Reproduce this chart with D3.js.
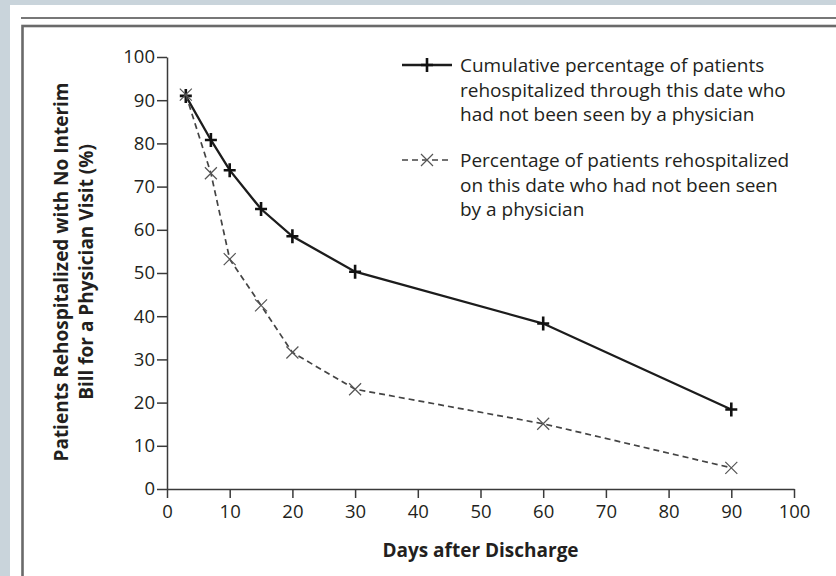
<!DOCTYPE html>
<html>
<head>
<meta charset="utf-8">
<script src="https://cdn.jsdelivr.net/npm/d3@7"></script>
<style>
  body { margin: 0; background: #c9d4db; }
  svg { display: block; }
  .axis path, .axis line { stroke: #3a3a3a; stroke-width: 1.5; }
  .axis text { font-family: "Open Sans", sans-serif; font-size: 18.5px; fill: #231f20; }
  .title { font-family: "Open Sans", sans-serif; font-weight: bold; font-size: 19px; fill: #231f20; }
  .legend { font-family: "Open Sans", sans-serif; font-size: 19px; fill: #231f20; }
</style>
</head>
<body>
<svg width="836" height="576"></svg>
<script>
// values
const days = [3, 7, 10, 15, 20, 30, 60, 90];
const cumulative = [91, 80.8, 73.8, 64.8, 58.5, 50.3, 38.3, 18.4];
const onDate = [91.3, 73.1, 53.2, 42.5, 31.6, 23.1, 15.1, 4.9];
const ticks = [0, 10, 20, 30, 40, 50, 60, 70, 80, 90, 100];
const legendCumulative = ["Cumulative percentage of patients",
  "rehospitalized through this date who",
  "had not been seen by a physician"];
const legendOnDate = ["Percentage of patients rehospitalized",
  "on this date who had not been seen",
  "by a physician"];

const svg = d3.select("svg");

// page frame
svg.append("rect").attr("x", 10).attr("y", 5).attr("width", 826).attr("height", 571).attr("fill", "#fff");
svg.append("line").attr("x1", 21).attr("x2", 836).attr("y1", 18).attr("y2", 18)
  .attr("stroke", "#4a4a4a").attr("stroke-width", 1.5);
svg.append("rect").attr("x", 22.5).attr("y", 26).attr("width", 900).attr("height", 700)
  .attr("fill", "none").attr("stroke", "#6a6a6a").attr("stroke-width", 2.6);

const x = d3.scaleLinear().domain([0, 100]).range([167, 794]);
const y = d3.scaleLinear().domain([0, 100]).range([489, 57]);

svg.append("g").attr("class", "axis")
  .attr("transform", "translate(0," + y(0) + ")")
  .call(d3.axisBottom(x).tickValues(ticks).tickSize(9).tickPadding(7).tickSizeOuter(0));
svg.append("g").attr("class", "axis")
  .attr("transform", "translate(" + x(0) + ",0)")
  .call(d3.axisLeft(y).tickValues(ticks).tickSize(10).tickPadding(2).tickSizeOuter(0));

// axis titles
svg.append("text").attr("class", "title")
  .attr("x", x(50)).attr("y", 557).attr("text-anchor", "middle")
  .text("Days after Discharge");
const yt = svg.append("text").attr("class", "title")
  .attr("transform", "translate(68,272) rotate(-90)").attr("text-anchor", "middle");
yt.append("tspan").attr("x", 0).attr("y", 0).text("Patients Rehospitalized with No Interim");
yt.append("tspan").attr("x", 0).attr("y", 25).text("Bill for a Physician Visit (%)");

const series = [
  { values: cumulative, color: "#1c1c1c", width: 2.3, dash: null, marker: "plus", legend: legendCumulative, ly: 65 },
  { values: onDate, color: "#444", width: 1.7, dash: "6,4", marker: "cross", legend: legendOnDate, ly: 160 }
];

const line = d3.line().x(d => x(d[0])).y(d => y(d[1]));

function marker(sel, type) {
  if (type === "plus") {
    sel.append("path").attr("d", "M-6,0H6M0,-7V7").attr("stroke", "#111").attr("stroke-width", 2.6);
  } else {
    sel.append("path").attr("d", "M-6,-6L6,6M-6,6L6,-6").attr("stroke", "#555").attr("stroke-width", 1.2);
  }
}

series.forEach(s => {
  const pts = days.map((d, i) => [d, s.values[i]]);
  svg.append("path").datum(pts)
    .attr("d", line)
    .attr("fill", "none")
    .attr("stroke", s.color)
    .attr("stroke-width", s.width)
    .attr("stroke-dasharray", s.dash);
  svg.selectAll(null).data(pts).enter().append("g")
    .attr("transform", d => "translate(" + x(d[0]) + "," + y(d[1]) + ")")
    .each(function () { marker(d3.select(this), s.marker); });

  // legend entry
  svg.append("line").attr("x1", 402).attr("x2", 452).attr("y1", s.ly).attr("y2", s.ly)
    .attr("stroke", s.color).attr("stroke-width", s.width).attr("stroke-dasharray", s.dash);
  marker(svg.append("g").attr("transform", "translate(427," + s.ly + ")"), s.marker);
  svg.append("text").attr("class", "legend")
    .selectAll("tspan").data(s.legend).enter().append("tspan")
    .attr("x", 460).attr("y", (d, i) => s.ly + 7 + i * 24.5)
    .text(d => d);
});
</script>
</body>
</html>
